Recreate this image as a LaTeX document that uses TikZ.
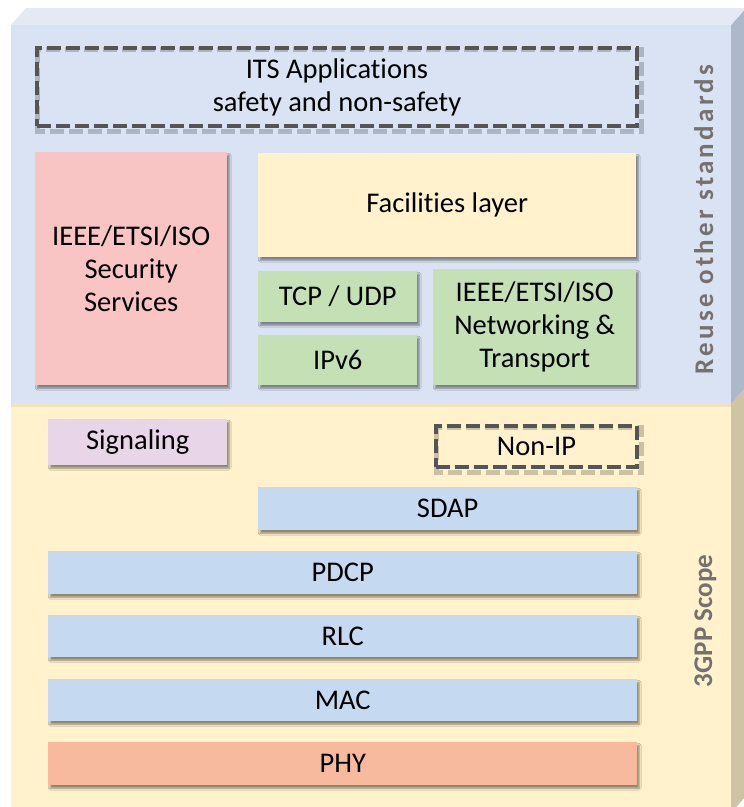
\documentclass[tikz,border=0pt]{standalone}
\usepackage{fontspec}
\setmainfont{Carlito}[Ligatures=NoCommon]
\usetikzlibrary{shadows.blur}
\definecolor{panelblue}{HTML}{DAE3F3}
\definecolor{paneltop}{HTML}{E4E9F4}
\definecolor{panelside}{HTML}{ADB9CA}
\definecolor{panelyellow}{HTML}{FFF2CC}
\definecolor{panelyside}{HTML}{CFC4A4}
\definecolor{secpink}{HTML}{F8C4C4}
\definecolor{facyellow}{HTML}{FFF2CC}
\definecolor{netgreen}{HTML}{C5E0B4}
\definecolor{sigpurple}{HTML}{E8D5E8}
\definecolor{stackblue}{HTML}{C5DAF0}
\definecolor{phyorange}{HTML}{F7BA9E}
\definecolor{dashgray}{HTML}{555555}
\definecolor{labelgray}{HTML}{767171}
\begin{document}
\begin{tikzpicture}[x=1pt,y=-1pt,
  layerbox/.style={anchor=north west, inner sep=0pt, align=center,
    font=\fontsize{28.5}{33}\selectfont,
    blur shadow={shadow xshift=2pt, shadow yshift=-3pt, shadow blur steps=6, shadow opacity=45}},
  dashbox/.style={anchor=north west, inner sep=0pt, align=center,
    font=\fontsize{28.5}{33}\selectfont, draw=dashgray, line width=4pt,
    dash pattern=on 14pt off 5pt},
  dashshadow/.style={draw=black, draw opacity=0.2, line width=5pt, dash pattern=on 14pt off 5pt},
  sidelabel/.style={rotate=90, anchor=base, text=labelgray, font=\fontsize{27}{30}\selectfont\bfseries}
]
\useasboundingbox (0,0) rectangle (744,807);
% 3D panel
\fill[panelyside] (731,404) -- (746,387) -- (746,796) -- (731,813) -- cycle;
\fill[panelside] (731,25) -- (746,8) -- (746,387) -- (731,404) -- cycle;
\fill[paneltop] (11,25) -- (26,8) -- (746,8) -- (731,25) -- cycle;
\fill[panelblue] (11,25) rectangle (731,404);
\fill[panelyellow] (11,404) rectangle (731,813);
\fill[black, opacity=0.06] (11,404) rectangle (731,407);

% ITS applications
\node[dashbox, minimum width=600pt, minimum height=78pt] (its) at (35,46) {ITS Applications\\safety and non-safety};
\draw[dashshadow] ([shift={(2,3)}]its.north west) rectangle ([shift={(2,3)}]its.south east);
\node[dashbox, minimum width=600pt, minimum height=78pt] at (35,46) {};

% upper stack
\node[layerbox, fill=secpink, minimum width=192pt, minimum height=233pt] (sec) at (35,152) {IEEE/ETSI/ISO\\Security\\Services};
\node[layerbox, fill=facyellow, minimum width=378pt, minimum height=104pt] (fac) at (258,153) {Facilities layer};
\node[layerbox, fill=netgreen, minimum width=159pt, minimum height=51pt] (tcp) at (258,271) {TCP / UDP};
\node[layerbox, fill=netgreen, minimum width=159pt, minimum height=50pt] (ipv6) at (258,335) {IPv6};
\node[layerbox, fill=netgreen, minimum width=203pt, minimum height=116pt] (net) at (433,269) {IEEE/ETSI/ISO\\Networking \&\\Transport};

% 3GPP stack
\node[layerbox, fill=sigpurple, minimum width=179pt, minimum height=46pt] (sig) at (48,419) {Signaling};
\node[dashbox, minimum width=201pt, minimum height=41pt] (nonip) at (434,424) {Non-IP};
\draw[dashshadow] ([shift={(2,3)}]nonip.north west) rectangle ([shift={(2,3)}]nonip.south east);
\node[dashbox, minimum width=201pt, minimum height=41pt] at (434,424) {};
\node[layerbox, fill=stackblue, minimum width=379pt, minimum height=43pt] (sdap) at (258,487) {SDAP};
\node[layerbox, fill=stackblue, minimum width=589pt, minimum height=43pt] (pdcp) at (48,551) {PDCP};
\node[layerbox, fill=stackblue, minimum width=589pt, minimum height=42pt] (rlc) at (48,615) {RLC};
\node[layerbox, fill=stackblue, minimum width=589pt, minimum height=42pt] (mac) at (48,679) {MAC};
\node[layerbox, fill=phyorange, minimum width=589pt, minimum height=43pt] (phy) at (48,742) {PHY};

% side labels
\node[sidelabel] (reuse) at (713,219.5) {\addfontfeature{LetterSpace=12}Reuse other standards};
\node[sidelabel] (scope) at (712,621) {3GPP Scope};
\end{tikzpicture}
\end{document}
